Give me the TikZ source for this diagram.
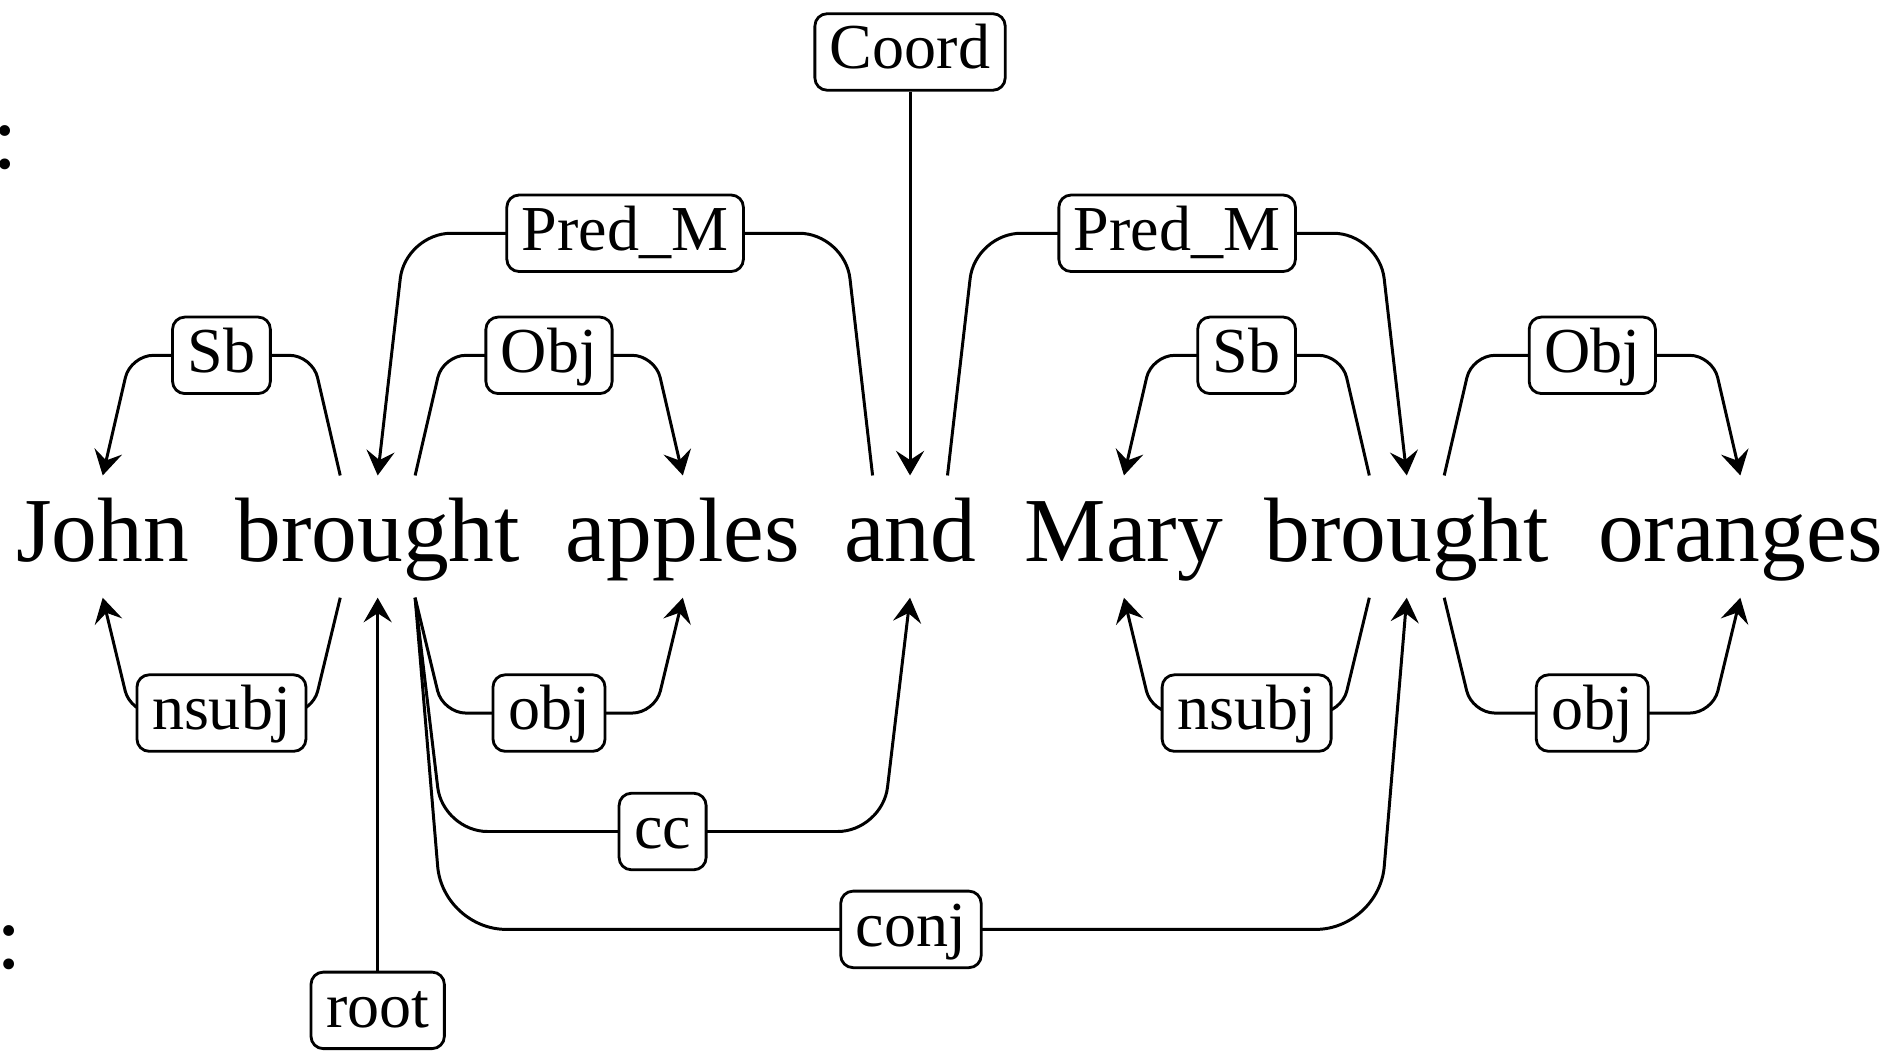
\documentclass[tikz,border=0pt]{standalone}
\usepackage{fontspec}
\setmainfont{Liberation Serif}
\usetikzlibrary{arrows.meta}

\tikzset{
	word/.style={font=\fontsize{26.06}{30}\selectfont, inner sep=0pt, text height=24.45pt, text depth=9.98pt},
	lab/.style={draw, fill=white, rounded corners=3.5pt, line width=0.8pt, font=\fontsize{18.25}{20}\selectfont,
		inner xsep=4.3pt, inner ysep=2.2pt, text height=13.5pt, text depth=3.9pt},
	dep/.style={line width=0.85pt, rounded corners=#1, -{Stealth[length=7pt,width=8pt,inset=2.6pt]}},
	dep/.default=1pt
}

\begin{document}
\begin{tikzpicture}[x=0.3443pt, y=-0.3443pt]
		\useasboundingbox (0,0) rectangle (1568,872);
		
		\node[word, anchor=base west] (colA) at (-6.4,139) {:};
		\node[word, anchor=base west] (colB) at (-3.1,801) {:};
		
		\node[word, anchor=base] (john) at (85,465) {John};
		\node[word, anchor=base] (broughtA) at (312.5,465) {brought};
		\node[word, anchor=base] (apples) at (565,465) {apples};
		\node[word, anchor=base] (and) at (753,465) {and};
		\node[word, anchor=base] (mary) at (930,465) {Mary};
		\node[word, anchor=base] (broughtB) at (1164,465) {brought};
		\node[word, anchor=base] (oranges) at (1440,465) {oranges};
		
		\coordinate (top1) at (0,294);
		\coordinate (top2) at (0,193);
		\coordinate (bot1) at (0,590);
		\coordinate (bot2) at (0,688);
		\coordinate (bot3) at (0,769);
		
		% above the sentence
		\draw[dep=6.5pt] ([xshift=-10.67pt]broughtA.north) -- ([xshift=-18.6pt]broughtA.north |- top1)
			-- node[lab] {Sb} ([xshift=7.92pt]john.north |- top1) -- (john.north);
		\draw[dep=13pt] ([xshift=-10.67pt]and.north) -- ([xshift=-18.6pt]and.north |- top2)
			-- node[lab] {Pred\_M} ([xshift=7.92pt]broughtA.north |- top2) -- (broughtA.north);
		\draw[dep=6.5pt] ([xshift=10.67pt]broughtA.north) -- ([xshift=18.6pt]broughtA.north |- top1)
			-- node[lab] {Obj} ([xshift=-7.92pt]apples.north |- top1) -- (apples.north);
		\node[lab] (coord) at (753,43) {Coord};
		\draw[dep] (coord) -- (and.north);
		\draw[dep=13pt] ([xshift=10.67pt]and.north) -- ([xshift=18.6pt]and.north |- top2)
			-- node[lab] {Pred\_M} ([xshift=-7.92pt]broughtB.north |- top2) -- (broughtB.north);
		\draw[dep=6.5pt] ([xshift=-10.67pt]broughtB.north) -- ([xshift=-18.6pt]broughtB.north |- top1)
			-- node[lab] {Sb} ([xshift=7.92pt]mary.north |- top1) -- (mary.north);
		\draw[dep=6.5pt] ([xshift=10.67pt]broughtB.north) -- ([xshift=18.6pt]broughtB.north |- top1)
			-- node[lab] {Obj} ([xshift=-7.92pt]oranges.north |- top1) -- (oranges.north);
		
		% below the sentence
		\draw[dep=6.5pt] ([xshift=-10.67pt]broughtA.south) -- ([xshift=-18.6pt]broughtA.south |- bot1)
			-- node[lab] {nsubj} ([xshift=7.92pt]john.south |- bot1) -- (john.south);
		\draw[dep=6.5pt] ([xshift=10.67pt]broughtA.south) -- ([xshift=18.6pt]broughtA.south |- bot1)
			-- node[lab] {obj} ([xshift=-7.92pt]apples.south |- bot1) -- (apples.south);
		\draw[dep=12.7pt] ([xshift=10.67pt]broughtA.south) -- ([xshift=18.6pt]broughtA.south |- bot2)
			-- node[lab] {cc} ([xshift=-7.92pt]and.south |- bot2) -- (and.south);
		\draw[dep=18pt] ([xshift=10.67pt]broughtA.south) -- ([xshift=18.6pt]broughtA.south |- bot3)
			-- node[lab] {conj} ([xshift=-7.92pt]broughtB.south |- bot3) -- (broughtB.south);
		\draw[dep=6.5pt] ([xshift=-10.67pt]broughtB.south) -- ([xshift=-18.6pt]broughtB.south |- bot1)
			-- node[lab] {nsubj} ([xshift=7.92pt]mary.south |- bot1) -- (mary.south);
		\draw[dep=6.5pt] ([xshift=10.67pt]broughtB.south) -- ([xshift=18.6pt]broughtB.south |- bot1)
			-- node[lab] {obj} ([xshift=-7.92pt]oranges.south |- bot1) -- (oranges.south);
		\node[lab] (root) at (312.5,836) {root};
		\draw[dep] (root) -- (broughtA.south);
	\end{tikzpicture}
\end{document}
